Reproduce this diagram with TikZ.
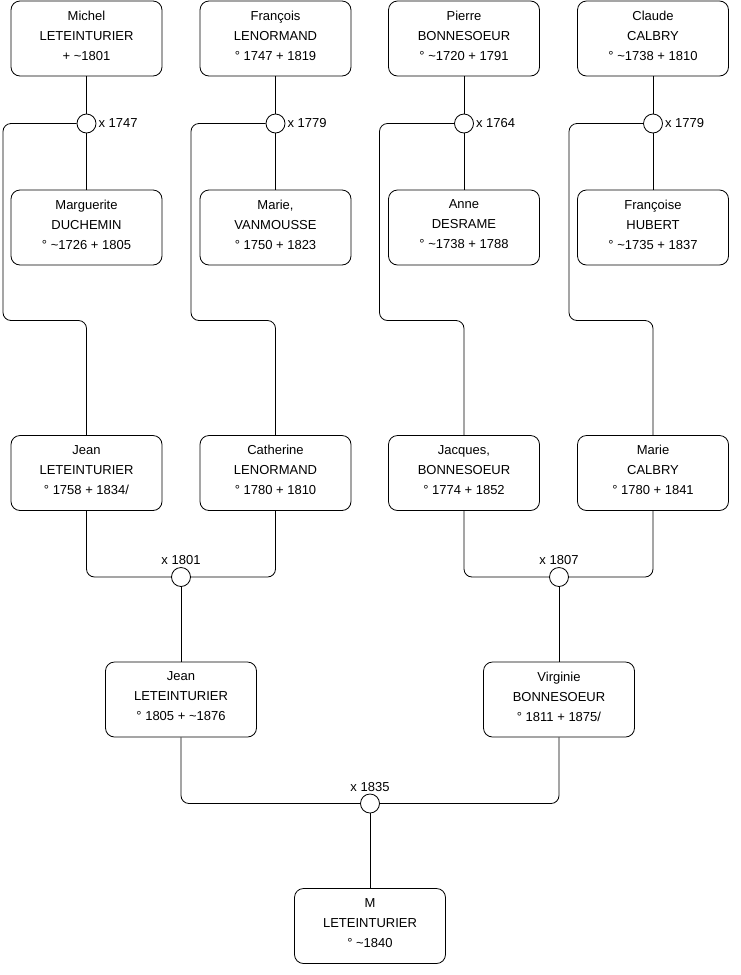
\documentclass[tikz,border=0pt]{standalone}
\usepackage{fontspec}
\setmainfont{Liberation Sans}
\usetikzlibrary{positioning, calc}
\tikzset{
  person/.style={
    draw,
    line width=0.8pt,
    rounded corners=9pt,
    minimum width=151pt,
    minimum height=75pt,
    text depth=6pt,
    align=center,
    font=\fontsize{13}{20}\selectfont
  },
  union/.style={
    draw,
    line width=0.8pt,
    circle,
    fill=white,
    minimum size=19pt,
    inner sep=0pt,
    label distance=1pt
  },
  every label/.style={font=\fontsize{13}{16}\selectfont, inner sep=2pt},
  link/.style={line width=0.8pt, rounded corners=8pt}
}

\begin{document}
\begin{tikzpicture}[x=1pt, y=-1pt]
  \useasboundingbox (0,0) rectangle (740,975);
  % grandparents, generation 1
  \node[person] (michel) at (86.5,38.5) {Michel\\LETEINTURIER\\+ \textasciitilde1801};
  \node[person] (francois) at (275.5,38.5) {François\\LENORMAND\\° 1747 + 1819};
  \node[person] (pierre) at (464,38.5) {Pierre\\BONNESOEUR\\° \textasciitilde1720 + 1791};
  \node[person] (claude) at (653,38.5) {Claude\\CALBRY\\° \textasciitilde1738 + 1810};
  % unions
  \node[union, label={right:x 1747}] (m1747) at (86.5,123.5) {};
  \node[union, label={right:x 1779}] (m1779a) at (275.5,123.5) {};
  \node[union, label={right:x 1764}] (m1764) at (464,123.5) {};
  \node[union, label={right:x 1779}] (m1779b) at (653,123.5) {};
  % spouses
  \node[person] (marguerite) at (86.5,227.5) {Marguerite\\DUCHEMIN\\° \textasciitilde1726 + 1805};
  \node[person] (mariev) at (275.5,227.5) {Marie,\\VANMOUSSE\\° 1750 + 1823};
  \node[person] (anne) at (464,227.5) {Anne\\DESRAME\\° \textasciitilde1738 + 1788};
  \node[person] (francoise) at (653,227.5) {Françoise\\HUBERT\\° \textasciitilde1735 + 1837};
  % children, generation 3
  \node[person] (jeanA) at (86.5,473) {Jean\\LETEINTURIER\\° 1758 + 1834/};
  \node[person] (catherine) at (275.5,473) {Catherine\\LENORMAND\\° 1780 + 1810};
  \node[person] (jacques) at (464,473) {Jacques,\\BONNESOEUR\\° 1774 + 1852};
  \node[person] (mariec) at (653,473) {Marie\\CALBRY\\° 1780 + 1841};
  \node[union, label={above:x 1801}] (m1801) at (181,577) {};
  \node[union, label={above:x 1807}] (m1807) at (559,577) {};
  % generation 4
  \node[person] (jeanB) at (181,699.5) {Jean\\LETEINTURIER\\° 1805 + \textasciitilde1876};
  \node[person] (virginie) at (559,699.5) {Virginie\\BONNESOEUR\\° 1811 + 1875/};
  \node[union, label={above:x 1835}] (m1835) at (370,803.5) {};
  \node[person] (m) at (370,926) {M\\LETEINTURIER\\° \textasciitilde1840};
  % lanes
  \coordinate (lane1) at (3,320.5);
  \coordinate (lane2) at (191,320.5);
  \coordinate (lane3) at (379.5,320.5);
  \coordinate (lane4) at (569,320.5);

  \foreach \parent/\couple/\spouse/\lane/\kid in {michel/m1747/marguerite/lane1/jeanA,
      francois/m1779a/mariev/lane2/catherine,
      pierre/m1764/anne/lane3/jacques,
      claude/m1779b/francoise/lane4/mariec}{
    \draw[link] (\parent) -- (\couple) -- (\spouse);
    \draw[link] (\couple.west) -| (\lane) -| (\kid.north);
  }
  \draw[link] (jeanA.south) |- (m1801.west);
  \draw[link] (catherine.south) |- (m1801.east);
  \draw[link] (m1801) -- (jeanB);
  \draw[link] (jacques.south) |- (m1807.west);
  \draw[link] (mariec.south) |- (m1807.east);
  \draw[link] (m1807) -- (virginie);
  \draw[link] (jeanB.south) |- (m1835.west);
  \draw[link] (virginie.south) |- (m1835.east);
  \draw[link] (m1835) -- (m);
\end{tikzpicture}
\end{document}
